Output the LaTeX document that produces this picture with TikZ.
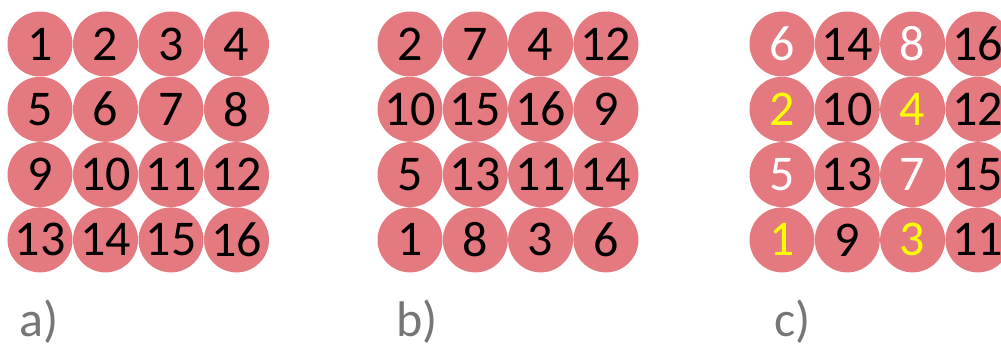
\documentclass[tikz,border=0pt]{standalone}
\usepackage{fontspec}
\setmainfont{Carlito}
\definecolor{discfill}{RGB}{229,121,128}
\definecolor{labgrey}{RGB}{118,118,118}
\definecolor{numyellow}{RGB}{255,255,0}
\begin{document}
\begin{tikzpicture}[x=1pt,y=-1pt,
  disc/.style={circle,fill=discfill,minimum size=65pt,inner sep=0pt,
    font=\fontsize{50}{50}\selectfont},
  lbl/.style={anchor=base west,inner sep=0pt,text=labgrey,
    font=\fontsize{50}{50}\selectfont}]
\useasboundingbox (0,0) rectangle (1001,345);
\clip (0,0) rectangle (1001,345);
% grid a
\foreach \v [count=\i from 0] in {1,2,3,4,5,6,7,8,9,10,11,12,13,14,15,16}{
  \pgfmathtruncatemacro\col{mod(\i,4)}
  \pgfmathtruncatemacro\row{\i/4}
  \node[disc] (a-\i) at ({40+65.5*\col},{44+65.3*\row}) {\v};
}
% grid b
\foreach \v [count=\i from 0] in {2,7,4,12,10,15,16,9,5,13,11,14,1,8,3,6}{
  \pgfmathtruncatemacro\col{mod(\i,4)}
  \pgfmathtruncatemacro\row{\i/4}
  \node[disc] (b-\i) at ({410+65.3*\col},{44+65.3*\row}) {\v};
}
% grid c
\foreach \v/\c [count=\i from 0] in {6/white,14/black,8/white,16/black,
    2/numyellow,10/black,4/numyellow,12/black,
    5/white,13/black,7/white,15/black,
    1/numyellow,9/black,3/numyellow,11/black}{
  \pgfmathtruncatemacro\col{mod(\i,4)}
  \pgfmathtruncatemacro\row{\i/4}
  \node[disc,text=\c] (c-\i) at ({782+65.3*\col},{44+65.3*\row}) {\v};
}
\node[lbl] (la) at (19,336) {a)};
\node[lbl] (lb) at (396,336) {b)};
\node[lbl] (lc) at (774,336) {c)};
\end{tikzpicture}
\end{document}
